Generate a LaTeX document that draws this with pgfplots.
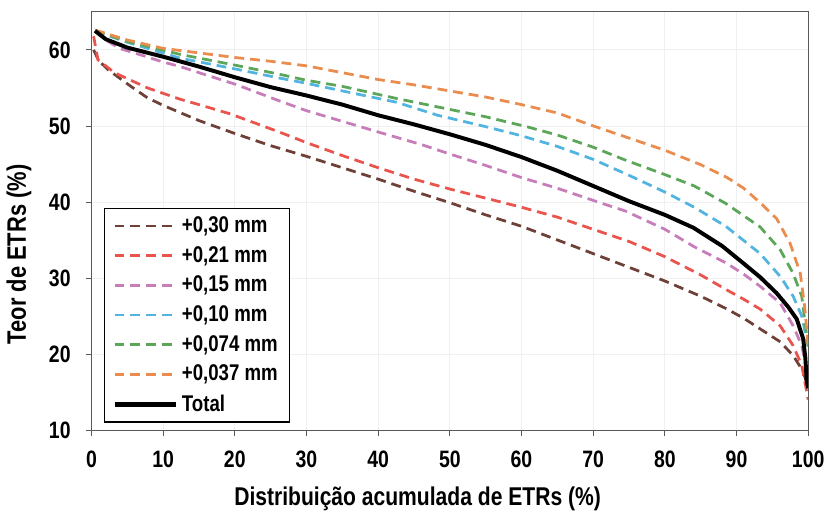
\documentclass[border=0pt]{standalone}
\usepackage{fontspec}
\setmainfont{Liberation Sans}[FakeStretch=0.82]
\usepackage{pgfplots}
\pgfplotsset{compat=1.18}

\definecolor{cbrown}{HTML}{6E4038}
\definecolor{cred}{HTML}{E9544C}
\definecolor{cpurple}{HTML}{C77DBA}
\definecolor{cblue}{HTML}{52B4E0}
\definecolor{cgreen}{HTML}{5CA65A}
\definecolor{corange}{HTML}{E98C4E}

\begin{document}
\begin{tikzpicture}
\begin{axis}[
    width=362.5pt, height=211.5pt,
    scale only axis,
    xmin=0, xmax=100, ymin=10, ymax=65,
    xtick={0,10,...,100}, ytick={10,20,...,60},
    tick align=outside, tick pos=left,
    major tick length=3pt,
    tick style={gray!70!black, thin},
    axis line style={gray!70!black, thin},
    grid=major, grid style={gray!12},
    /pgf/number format/assume math mode=true,
    tick label style={font=\bfseries\fontsize{12}{14}\selectfont},
    xticklabel style={yshift=-4pt},
    yticklabel style={xshift=-4pt},
    xlabel={Distribuição acumulada de ETRs (\%)},
    ylabel={Teor de ETRs (\%)},
    xlabel style={font=\bfseries\fontsize{13}{15}\selectfont,
        at={(ticklabel cs:0.455)}, anchor=north, yshift=-3pt},
    ylabel style={font=\bfseries\fontsize{13.5}{15}\selectfont,
        at={(ticklabel cs:0.42)}, anchor=south, yshift=2pt},
    legend style={at={(rel axis cs:0.017,0.017)}, anchor=south west,
        draw=black, line width=0.8pt, font=\bfseries\fontsize{11.5}{13}\selectfont,
        row sep=1.5pt, inner xsep=4pt, inner ysep=2pt},
    legend cell align=left,
    legend image code/.code={\draw[line width=1.4pt] (0pt,0pt) -- (31pt,0pt);},
    every axis plot/.append style={line width=1.4pt, dash pattern=on 5pt off 3pt},
]
% +0,30 mm
\addplot[cbrown] coordinates {
(0.3,60.0) (1,58.6) (2.3,57.4) (5.5,55.2) (7.8,53.7) (10,52.7) (15,50.7)
(20,49.0) (25,47.4) (30,46.0) (35,44.5) (40,43.0) (45,41.4) (50,39.9)
(55,38.3) (60,36.8) (65,35.0) (70,33.2) (75,31.4) (80,29.6) (85,27.6)
(88.7,25.9) (91,24.7) (93.3,23.3) (96.1,21.6) (97.9,19.8) (99.3,17.7) (100,15.5)};
\addlegendentry{+0,30 mm}
% +0,21 mm
\addplot[cred] coordinates {
(0.3,61.8) (0.9,58.7) (3.2,57.0) (7.8,55.0) (12.4,53.5) (15,52.8) (19.3,51.6)
(26.2,49.2) (30,47.8) (35,46.1) (40,44.5) (45,43.0) (50,41.7) (55,40.5)
(60,39.3) (65,38.0) (70,36.4) (75,34.8) (80,32.8) (85,30.4) (88.5,28.5)
(91,27.2) (93.3,25.9) (96.1,23.7) (97.9,21.1) (99.1,18.5) (100,14.0)};
\addlegendentry{+0,21 mm}
% +0,15 mm
\addplot[cpurple] coordinates {
(0.5,62.5) (2,61.3) (3.9,60.2) (7,59.3) (10,58.4) (12.4,57.8) (15,57.0)
(20,55.5) (26.2,53.3) (30,52.0) (35,50.6) (40,49.2) (46.2,47.5) (50,46.3)
(55,44.8) (60,43.2) (65,41.8) (70,40.2) (74.5,38.8) (80,36.4) (84.1,34.1)
(88.5,32.0) (91,30.5) (93.3,28.9) (96.1,26.7) (97.9,23.7) (99.1,21.1) (100,17.0)};
\addlegendentry{+0,15 mm}
% +0,10 mm
\addplot[cblue] coordinates {
(0.5,62.5) (5,61.0) (12.4,58.9) (20,57.5) (26.2,56.3) (30,55.6) (35,54.6)
(42.6,53.1) (48.3,51.4) (55,49.9) (60,48.7) (65,47.3) (70,45.6) (75,43.5)
(80,41.3) (84.1,39.3) (88.5,36.8) (93.3,33.2) (96.1,30.2) (97.9,27.6)
(99.1,25.0) (100,21.0)};
\addlegendentry{+0,10 mm}
% +0,074 mm
\addplot[cgreen] coordinates {
(0.5,62.5) (5,61.1) (12.4,59.4) (20,58.0) (26.2,56.8) (30,56.0) (35,55.2)
(42.6,53.6) (48.8,52.4) (55,51.2) (60.7,49.9) (65,48.8) (70,47.2) (74.5,45.5)
(80,43.6) (84.1,42.1) (88.5,39.8) (93.3,36.7) (96.1,33.7) (97.9,30.6)
(99.1,27.6) (99.5,24.6) (100,21.0)};
\addlegendentry{+0,074 mm}
% +0,037 mm
\addplot[corange] coordinates {
(0.5,62.6) (5,61.3) (10,60.2) (15,59.6) (20,59.0) (25,58.5) (30,57.9)
(35,57.0) (40,56.1) (45,55.4) (50,54.6) (55,53.8) (60,52.8) (65,51.7)
(70,50.0) (75,48.4) (80,46.8) (85,44.9) (88.7,43.2) (91,41.8) (93.3,39.9)
(95.6,37.8) (97.5,34.5) (98.9,30.6) (99.5,26.3) (100,21.0)};
\addlegendentry{+0,037 mm}
% Total
\addplot[black, line width=2pt, solid,
    legend image code/.code={\draw[line width=2.2pt] (0pt,0pt) -- (31pt,0pt);}] coordinates {
(0.5,62.5) (2,61.4) (5,60.3) (10,59.1) (15,57.8) (20,56.4) (25,55.1)
(30,54.0) (35,52.8) (40,51.4) (45,50.2) (50,48.9) (55,47.5) (60,45.9)
(65,44.1) (70,42.1) (75,40.1) (80,38.3) (84,36.6) (88,34.2) (91,31.9)
(93.3,30.1) (95.6,28.0) (97.2,26.2) (98.4,24.6) (99.3,22.0) (99.6,19.5) (99.8,16.5) (100,15.5)};
\addlegendentry{Total}
\end{axis}
\path ([yshift=6pt]current axis.north);
\end{tikzpicture}
\end{document}
